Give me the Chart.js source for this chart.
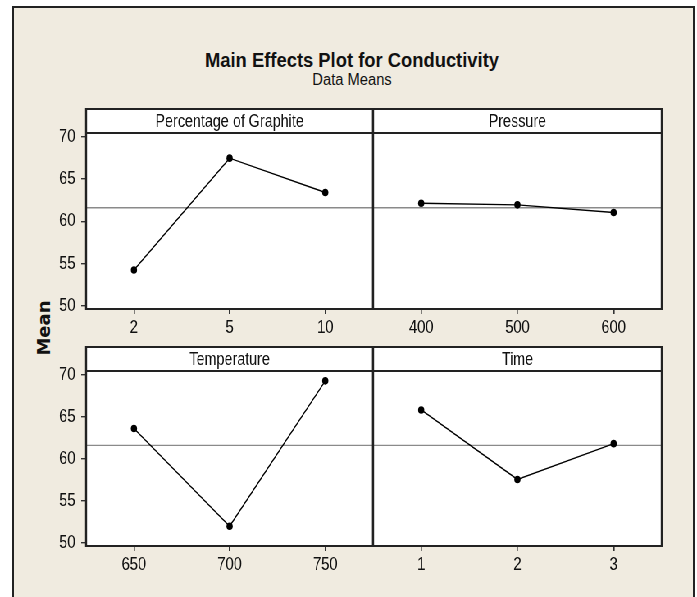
<!DOCTYPE html>
<html>
<head>
<meta charset="utf-8">
<script src="https://cdn.jsdelivr.net/npm/chart.js@4.4.1/dist/chart.umd.min.js"></script>
<style>
  html, body { margin: 0; padding: 0; background: #ffffff; overflow: hidden; }
  #page { position: relative; width: 697px; height: 597px; overflow: hidden; }
  #frame { position: absolute; left: 12px; top: 6px; width: 679px; height: 620px;
           border: 2px solid #222; background: #f0ebe0; }
  #squeeze { position: absolute; left: 0; top: 0; width: 850px; height: 597px;
             transform: scaleX(0.82); transform-origin: 0 0; }
  #squeeze canvas { position: absolute; }
  .title { position: absolute; left: 52px; width: 600px; text-align: center;
           font-family: "Liberation Sans", Arial, sans-serif; color: #111; white-space: nowrap; }
  #mainTitle { top: 48px; font-size: 21px; font-weight: bold; line-height: 24px; transform: scaleX(0.875); }
  #subTitle { top: 70px; font-size: 16px; line-height: 20px; transform: scaleX(0.92); }
  #yTitle { position: absolute; left: -6px; top: 316px; width: 100px; height: 24px; line-height: 24px;
            text-align: center; font-family: "DejaVu Sans", Verdana, sans-serif; font-weight: bold;
            font-size: 18px; color: #111; transform: rotate(-90deg); }
</style>
</head>
<body>
<div id="page">
  <div id="frame"></div>
  <div id="mainTitle" class="title">Main Effects Plot for Conductivity</div>
  <div id="subTitle" class="title">Data Means</div>
  <div id="yTitle">Mean</div>
  <div id="squeeze">
    <canvas id="graphiteChart" width="430" height="245" style="left:35px; top:104px;"></canvas>
    <canvas id="pressureChart" width="432" height="245" style="left:385px; top:104px;"></canvas>
    <canvas id="temperatureChart" width="430" height="244" style="left:35px; top:342px;"></canvas>
    <canvas id="timeChart" width="432" height="244" style="left:385px; top:342px;"></canvas>
  </div>
</div>
<script>
// Factor levels and data means
const graphiteLabels = ['2', '5', '10'];
const graphiteMeans = [54.25, 67.45, 63.4];

const pressureLabels = ['400', '500', '600'];
const pressureMeans = [62.13, 61.94, 61.03];

const temperatureLabels = ['650', '700', '750'];
const temperatureMeans = [63.6, 52.0, 69.25];

const timeLabels = ['1', '2', '3'];
const timeMeans = [65.8, 57.55, 61.8];

const yTicks = [50, 55, 60, 65, 70];
const grandMean = 61.6;
const yMin = 49.65;
const yMax = 70.42;

const HEADER_H = 24;
const FONT = '"Liberation Sans", Arial, sans-serif';

Chart.defaults.font.family = FONT;
Chart.defaults.color = '#111';

// Draws the white panel, the grey mean line, the header strip and the borders
const panelPlugin = {
    id: 'panel',
    beforeDraw(chart) {
        const { ctx, chartArea: a } = chart;
        ctx.save();
        ctx.fillStyle = '#ffffff';
        ctx.fillRect(a.left, a.top - HEADER_H, a.right - a.left, a.bottom - a.top + HEADER_H);
        ctx.restore();
    },
    beforeDatasetsDraw(chart) {
        const { ctx, chartArea: a, scales } = chart;
        const y = scales.y.getPixelForValue(grandMean);
        ctx.save();
        ctx.strokeStyle = '#8a8a8a';
        ctx.lineWidth = 1.3;
        ctx.beginPath();
        ctx.moveTo(a.left, y);
        ctx.lineTo(a.right, y);
        ctx.stroke();
        ctx.restore();
    },
    afterDraw(chart, args, opts) {
        const { ctx, chartArea: a } = chart;
        const top = a.top - HEADER_H;
        ctx.save();
        ctx.strokeStyle = '#222';
        // horizontal lines
        ctx.lineWidth = 2;
        ctx.beginPath();
        ctx.moveTo(a.left, top); ctx.lineTo(a.right, top);
        ctx.moveTo(a.left, a.top); ctx.lineTo(a.right, a.top);
        ctx.moveTo(a.left, a.bottom); ctx.lineTo(a.right, a.bottom);
        ctx.stroke();
        // vertical lines (thicker, the page is squeezed sideways)
        ctx.lineWidth = 2.4;
        ctx.beginPath();
        ctx.moveTo(a.left, top - 1); ctx.lineTo(a.left, a.bottom + 1);
        ctx.moveTo(a.right, top - 1); ctx.lineTo(a.right, a.bottom + 1);
        ctx.stroke();
        // header text
        ctx.fillStyle = '#111';
        ctx.font = '17.5px ' + FONT;
        ctx.textAlign = 'center';
        ctx.textBaseline = 'middle';
        ctx.fillText(opts.text, (a.left + a.right) / 2, top + HEADER_H / 2 + 1);
        ctx.restore();
    }
};

function makePanel(canvasId, header, labels, values, showY) {
    return new Chart(document.getElementById(canvasId), {
        type: 'line',
        data: {
            labels: labels,
            datasets: [{
                data: values,
                borderColor: '#000',
                borderWidth: 1.4,
                backgroundColor: '#000',
                pointBackgroundColor: '#000',
                pointBorderColor: '#000',
                pointRadius: 3.8,
                pointBorderWidth: 0,
                tension: 0,
                fill: false
            }]
        },
        options: {
            responsive: false,
            animation: false,
            events: [],
            layout: {
                autoPadding: false,
                padding: { left: showY ? 10 : 70, right: 10, top: 5 + HEADER_H, bottom: 0 }
            },
            plugins: {
                legend: { display: false },
                tooltip: { enabled: false },
                panel: { text: header }
            },
            scales: {
                x: {
                    type: 'category',
                    offset: true,
                    border: { display: false },
                    grid: { drawOnChartArea: false, drawTicks: true, tickLength: 5, color: '#333', lineWidth: 1.6 },
                    ticks: { font: { size: 18 }, color: '#111', padding: 3, maxRotation: 0 },
                    afterFit: scale => { scale.height = 40; }
                },
                y: {
                    display: showY,
                    min: yMin,
                    max: yMax,
                    border: { display: false },
                    grid: { drawOnChartArea: false, drawTicks: true, tickLength: 6, color: '#333', lineWidth: 1.4 },
                    ticks: { font: { size: 18 }, color: '#111', padding: 7 },
                    afterBuildTicks: scale => { scale.ticks = yTicks.map(v => ({ value: v })); },
                    afterFit: scale => { scale.width = showY ? 60 : 0; }
                }
            }
        },
        plugins: [panelPlugin]
    });
}

makePanel('graphiteChart', 'Percentage of Graphite', graphiteLabels, graphiteMeans, true);
makePanel('pressureChart', 'Pressure', pressureLabels, pressureMeans, false);
makePanel('temperatureChart', 'Temperature', temperatureLabels, temperatureMeans, true);
makePanel('timeChart', 'Time', timeLabels, timeMeans, false);
</script>
</body>
</html>
